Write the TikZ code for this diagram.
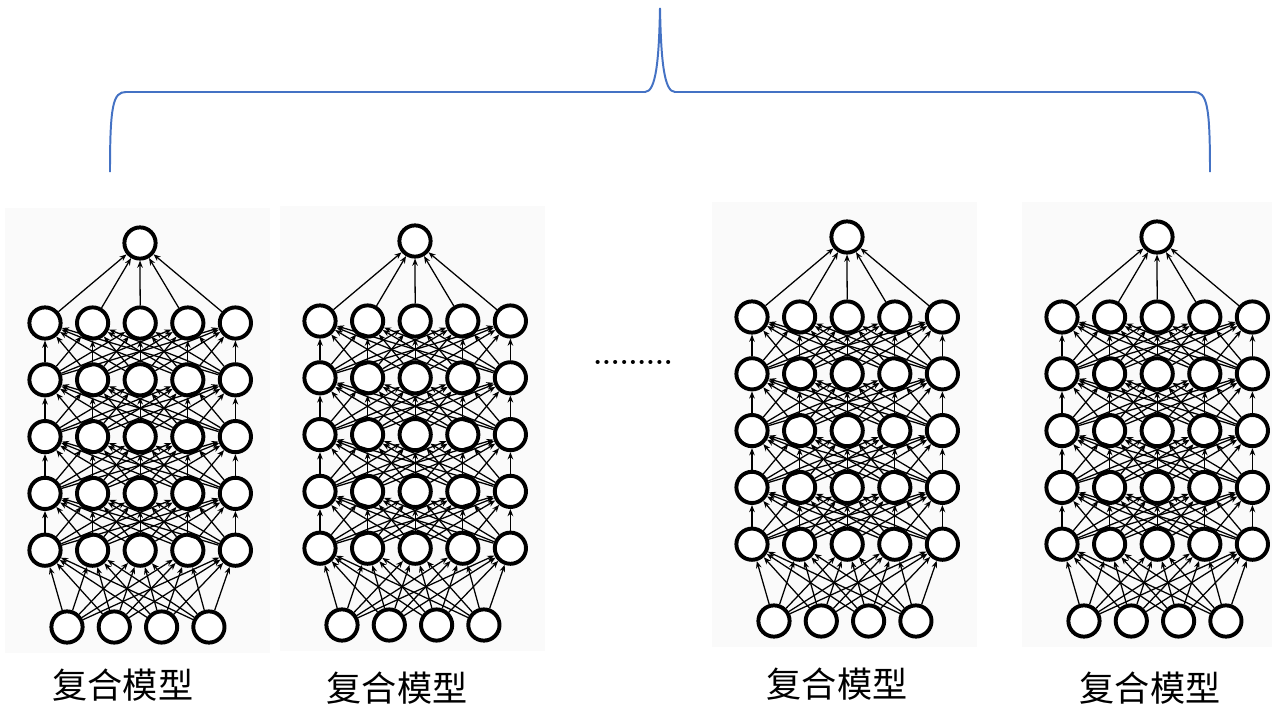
\documentclass[tikz,border=0pt]{standalone}
\usepackage{fontspec}
\newfontfamily\cjk{Noto Sans CJK SC}
\usetikzlibrary{arrows.meta}
\definecolor{bracecol}{HTML}{4472C4}
\tikzset{
  neuron/.style={
    draw,
    circle,
    minimum size=0.78cm,
    inner sep=0pt,
    line width=2.8pt,
    fill=white
  },
  link/.style={-{Stealth[length=1.8mm,width=1.4mm]}, line width=0.9pt},
  netbg/.style={fill=black!2, draw=none},
  caption/.style={font=\cjk\fontsize{25}{30}\selectfont},
  bracket/.style={draw=bracecol, line width=1.4pt}
}

% one composite network: #1 name prefix, #2 x offset, #3 y offset
\newcommand{\compnet}[3]{%
\begin{scope}[shift={(#2,#3)}, name prefix=#1-]
  \fill[netbg] (-40,-35) rectangle (225,410);
  \node[neuron] (out) at (95,0) {};
  \foreach \r in {1,...,5}
    \foreach \c in {1,...,5}
      \node[neuron] (h\r\c) at ({47.6*(\c-1)},{80+56.8*(5-\r)}) {};
  \foreach \c in {1,...,4}
    \node[neuron] (in\c) at ({22+47.3*(\c-1)},384) {};
  \foreach \c in {1,...,5}
    \draw[link] (h5\c) -- (out);
  \foreach \r [evaluate=\r as \s using int(\r+1)] in {1,...,4}
    \foreach \a in {1,...,5}
      \foreach \b in {1,...,5}
        \draw[link] (h\r\a) -- (h\s\b);
  \foreach \a in {1,...,4}
    \foreach \b in {1,...,5}
      \draw[link] (in\a) -- (h1\b);
\end{scope}}

\begin{document}
\begin{tikzpicture}[x=0.025cm, y=-0.025cm]
  \useasboundingbox (0,0) rectangle (1272,704);

  % the brace over all models
  \draw[bracket] (110,172) .. controls (110,105) and (113,92) .. (126,92)
    -- (645,92) .. controls (656,92) and (659,60) .. (660,8)
    .. controls (661,60) and (664,92) .. (675,92)
    -- (1194,92) .. controls (1207,92) and (1210,105) .. (1210,172);

  \compnet{n1}{45}{243}
  \compnet{n2}{320}{241}
  \compnet{n3}{752}{237}
  \compnet{n4}{1062}{237}

  \node[font=\fontsize{20}{24}\selectfont\bfseries] (dots) at (633,362) {.........};

  \node[caption] (c1) at (123,685) {复合模型};
  \node[caption] (c2) at (397,688) {复合模型};
  \node[caption] (c3) at (837,684) {复合模型};
  \node[caption] (c4) at (1150,688) {复合模型};
\end{tikzpicture}
\end{document}
